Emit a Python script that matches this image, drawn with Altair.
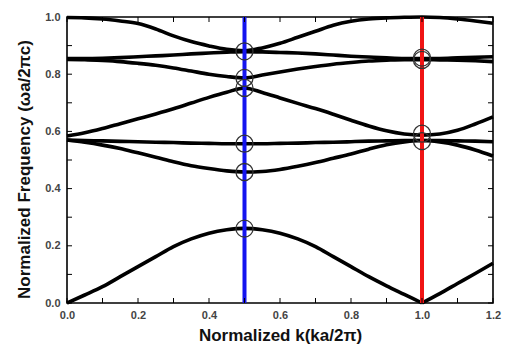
import altair as alt
import pandas as pd

# ---- data ----
k = [0.0, 0.05, 0.1, 0.15, 0.2, 0.25, 0.3, 0.35, 0.4, 0.45, 0.5, 0.55, 0.6,
     0.65, 0.7, 0.75, 0.8, 0.85, 0.9, 0.95, 1.0, 1.05, 1.1, 1.15, 1.2]

band1 = [0.0, 0.028, 0.057, 0.092, 0.127, 0.162, 0.197, 0.224, 0.244, 0.256, 0.261,
         0.256, 0.244, 0.224, 0.197, 0.162, 0.127, 0.092, 0.06, 0.03, 0.0,
         0.033, 0.068, 0.103, 0.139]
band2 = [0.570, 0.562, 0.552, 0.540, 0.525, 0.510, 0.494, 0.480, 0.470, 0.462, 0.458,
         0.460, 0.467, 0.478, 0.491, 0.506, 0.521, 0.538, 0.553, 0.563, 0.568,
         0.563, 0.552, 0.535, 0.514]
band3 = [0.570, 0.568, 0.567, 0.565, 0.564, 0.562, 0.561, 0.559, 0.558, 0.557, 0.557,
         0.557, 0.558, 0.559, 0.561, 0.562, 0.564, 0.566, 0.567, 0.568, 0.568,
         0.568, 0.567, 0.566, 0.564]
band4 = [0.584, 0.595, 0.610, 0.627, 0.644, 0.661, 0.679, 0.699, 0.719, 0.737, 0.752,
         0.736, 0.717, 0.698, 0.680, 0.660, 0.639, 0.619, 0.602, 0.591, 0.587,
         0.591, 0.604, 0.626, 0.651]
band5 = [0.852, 0.851, 0.848, 0.844, 0.838, 0.831, 0.822, 0.811, 0.800, 0.792, 0.787,
         0.797, 0.808, 0.818, 0.827, 0.835, 0.841, 0.846, 0.849, 0.851, 0.851,
         0.850, 0.849, 0.847, 0.844]
band6 = [0.855, 0.855, 0.856, 0.858, 0.861, 0.864, 0.867, 0.871, 0.874, 0.877, 0.879,
         0.878, 0.876, 0.874, 0.871, 0.867, 0.863, 0.860, 0.857, 0.855, 0.855,
         0.855, 0.857, 0.859, 0.861]
band7 = [0.998, 0.997, 0.993, 0.986, 0.977, 0.958, 0.934, 0.914, 0.899, 0.887, 0.882,
         0.892, 0.908, 0.929, 0.950, 0.971, 0.985, 0.993, 0.997, 0.999, 1.0,
         0.998, 0.993, 0.986, 0.978]

marker_k = [0.5, 0.5, 0.5, 0.5, 0.5, 0.5, 1.0, 1.0, 1.0, 1.0]
marker_f = [0.260, 0.458, 0.557, 0.752, 0.787, 0.880, 0.566, 0.592, 0.850, 0.858]

cut_k = [0.5, 1.0]
cut_name = ["blue", "red"]

k_ticks = [0.0, 0.1, 0.2, 0.3, 0.4, 0.5, 0.6, 0.7, 0.8, 0.9, 1.0, 1.1, 1.2]
k_labels = [0.0, 0.2, 0.4, 0.6, 0.8, 1.0, 1.2]
f_ticks = [0.0, 0.1, 0.2, 0.3, 0.4, 0.5, 0.6, 0.7, 0.8, 0.9, 1.0]
f_labels = [0.0, 0.2, 0.4, 0.6, 0.8, 1.0]

# ---- build tables ----
bands = {"b1": band1, "b2": band2, "b3": band3, "b4": band4,
         "b5": band5, "b6": band6, "b7": band7}
rows = []
for name, ys in bands.items():
    for i, (xv, yv) in enumerate(zip(k, ys)):
        if name == "b1":
            if xv <= 1.0:
                rows.append({"seg": "b1a", "k": xv, "f": yv, "o": i})
            if xv >= 1.0:
                rows.append({"seg": "b1b", "k": xv, "f": yv, "o": i})
        else:
            rows.append({"seg": name, "k": xv, "f": yv, "o": i})
df = pd.DataFrame(rows)

markers = pd.DataFrame({"k": marker_k, "f": marker_f})
cuts = pd.DataFrame({"k": cut_k, "c": cut_name})
kt = pd.DataFrame({"k": k_ticks})
ft = pd.DataFrame({"f": f_ticks})

W, H = 426, 286
FONT = "Liberation Sans"

xscale = alt.Scale(domain=[0, 1.2], nice=False, zero=False)
yscale = alt.Scale(domain=[0, 1.0], nice=False, zero=False)

xaxis = alt.Axis(values=k_labels, format=".1f", ticks=False, tickSize=0, domain=False,
                 grid=False, labelFlush=False, labelFont=FONT, labelFontWeight="bold",
                 labelFontSize=11, labelColor="#444", labelPadding=6,
                 title="Normalized k(ka/2π)", titleFont=FONT, titleFontWeight="bold",
                 titleFontSize=17, titleColor="#111", titlePadding=7)
yaxis = alt.Axis(values=f_labels, format=".1f", ticks=False, tickSize=0, domain=False,
                 grid=False, labelFlush=False, labelFont=FONT, labelFontWeight="bold",
                 labelFontSize=11, labelColor="#444", labelPadding=7,
                 title="Normalized Frequency (ωa/2πc)", titleFont=FONT,
                 titleFontWeight="bold", titleFontSize=17, titleColor="#111",
                 titlePadding=11, titleY=152)

X = lambda: alt.X("k:Q", scale=xscale, axis=xaxis)
Y = lambda: alt.Y("f:Q", scale=yscale, axis=yaxis)

lines = alt.Chart(df).mark_line(color="black", strokeWidth=3.6, interpolate="monotone").encode(
    x=X(), y=Y(), detail="seg:N", order="o:Q",
)

vlines = alt.Chart(cuts).mark_rule(strokeWidth=4).encode(
    x=X(),
    color=alt.Color("c:N", scale=alt.Scale(domain=["blue", "red"],
                                           range=["#1414f0", "#f01414"]), legend=None),
)

circles = alt.Chart(markers).mark_point(shape="circle", filled=False, size=290,
                                         stroke="#333", strokeWidth=1.3, opacity=1).encode(
    x=X(), y=Y(),
)

tick_style = dict(color="black", strokeWidth=1)
bt = alt.Chart(kt).mark_rule(**tick_style).encode(x=X(), y=alt.value(H), y2=alt.value(H - 5))
tt = alt.Chart(kt).mark_rule(**tick_style).encode(x=X(), y=alt.value(0), y2=alt.value(5))
lt = alt.Chart(ft).mark_rule(**tick_style).encode(y=Y(), x=alt.value(0), x2=alt.value(5))
rt = alt.Chart(ft).mark_rule(**tick_style).encode(y=Y(), x=alt.value(W), x2=alt.value(W - 5))

chart = alt.layer(lines, vlines, circles, bt, tt, lt, rt).properties(
    width=W, height=H,
    autosize=alt.AutoSizeParams(type="none"),
    padding={"left": 67, "top": 17, "right": 12, "bottom": 49},
    background="white",
).configure_view(stroke="black", strokeWidth=1.6)

chart.save("out.html", embed_options={"renderer": "svg", "actions": False})
